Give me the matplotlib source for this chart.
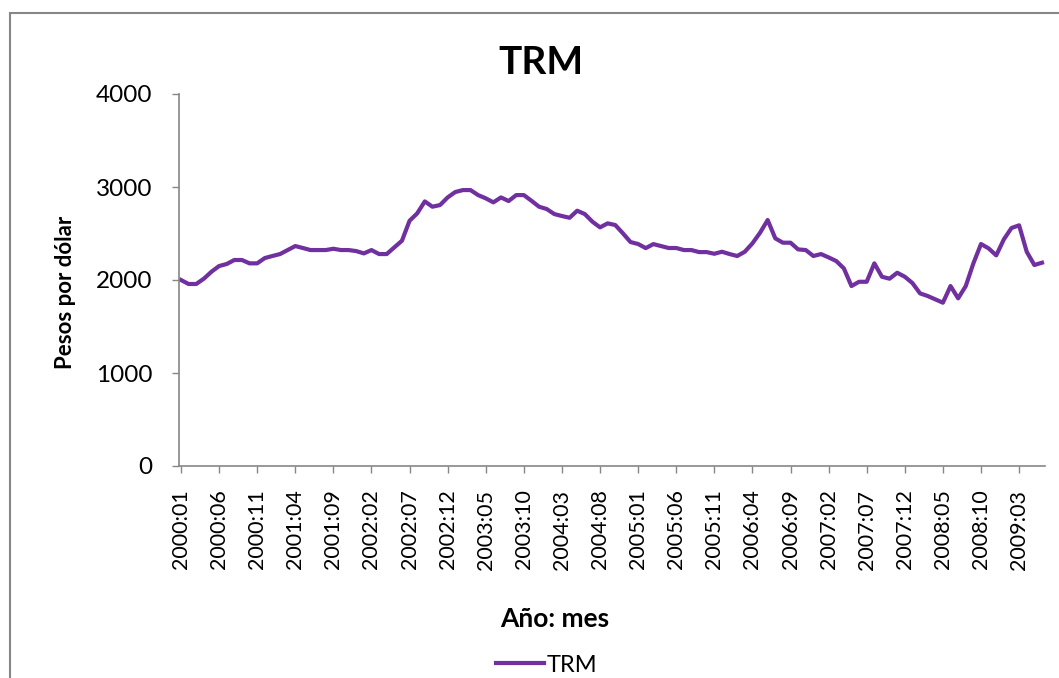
import matplotlib
matplotlib.use("Agg")
import matplotlib.pyplot as plt
from matplotlib.patches import Rectangle
import pandas as pd

# Categories: monthly, 2000:01 .. 2009:06
months = [p.strftime("%Y:%m") for p in pd.period_range("2000-01", "2009-06", freq="M")]

# TRM (pesos por dólar)
trm = [2000, 1957, 1957, 2014, 2089, 2150, 2172, 2215, 2215, 2179,
       2179, 2236, 2258, 2279, 2322, 2365, 2344, 2322, 2322, 2322,
       2336, 2322, 2322, 2311, 2286, 2322, 2279, 2279, 2351, 2422,
       2637, 2716, 2845, 2788, 2806, 2888, 2946, 2967, 2967, 2913,
       2878, 2835, 2888, 2849, 2913, 2913, 2852, 2788, 2763, 2709,
       2688, 2669, 2745, 2709, 2627, 2566, 2609, 2591, 2502, 2408,
       2387, 2343, 2386, 2365, 2344, 2344, 2322, 2322, 2300, 2300,
       2282, 2304, 2279, 2258, 2304, 2394, 2508, 2645, 2448, 2401,
       2401, 2329, 2322, 2258, 2279, 2243, 2204, 2125, 1935, 1981,
       1981, 2179, 2035, 2014, 2078, 2035, 1967, 1856, 1828, 1792,
       1756, 1935, 1803, 1935, 2179, 2387, 2340, 2265, 2437, 2559,
       2588, 2304, 2161, 2186]

yticks = [0, 1000, 2000, 3000, 4000]
tick_step = 5

FONT = "Lato"
W, H = 1059, 678
fig = plt.figure(figsize=(W / 100, H / 100), dpi=100)

# outer chart border
fig.patches.append(Rectangle((10 / W, -0.05), 1.2, 1 - 13 / H + 0.05,
                             transform=fig.transFigure, fill=False,
                             edgecolor="#878787", linewidth=1.5))

ax = fig.add_axes([179 / W, 1 - 466 / H, (1045 - 179) / W, (466 - 94) / H])
x = list(range(len(trm)))
line, = ax.plot(x, trm, color="#7030A0", linewidth=3.0, label="TRM",
                solid_joinstyle="round")

ax.set_xlim(-0.26, 113.4)
ax.set_ylim(0, 4000)
ax.set_yticks(yticks)
ax.set_yticklabels([str(v) for v in yticks], fontsize=17.5, family=FONT)
ax.set_xticks(x[::tick_step])
ax.set_xticklabels(months[::tick_step], rotation=90, fontsize=15.5, family=FONT)

for s in ["top", "right"]:
    ax.spines[s].set_visible(False)
for s in ["left", "bottom"]:
    ax.spines[s].set_color("#868686")
    ax.spines[s].set_linewidth(1.2)
ax.tick_params(axis="both", colors="#868686", labelcolor="black", length=5,
               width=1.0, direction="out")
ax.tick_params(axis="y", pad=14)
ax.tick_params(axis="x", pad=12)

fig.text(541 / W, 1 - 62 / H, "TRM", ha="center", va="center",
         fontsize=28, fontweight="bold", family=FONT)
fig.text(66 / W, 1 - 292 / H, "Pesos por dólar", ha="center", va="center",
         rotation=90, fontsize=16, fontweight="bold", family=FONT)
fig.text(555 / W, 1 - 619 / H, "Año: mes", ha="center", va="center",
         fontsize=19, fontweight="bold", family=FONT)

fig.legend(handles=[line], labels=["TRM"], loc="center",
           bbox_to_anchor=(547 / W, 1 - 665 / H), frameon=False,
           prop={"family": FONT, "size": 17}, handlelength=2.0,
           handletextpad=0.15)

fig.savefig("out.png", dpi=100)
